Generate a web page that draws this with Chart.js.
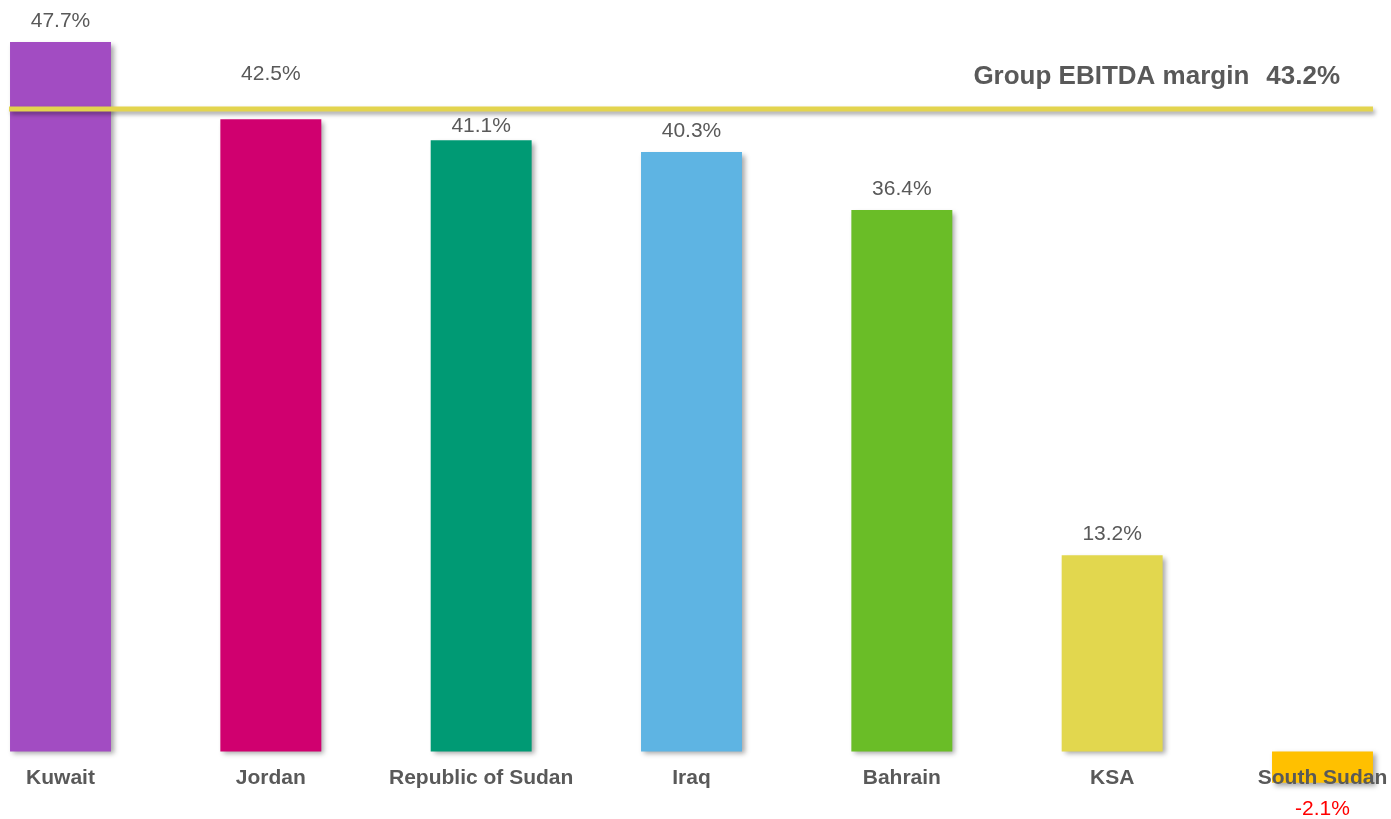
<!DOCTYPE html>
<html>
<head>
<meta charset="utf-8">
<title>EBITDA margin by operation</title>
<script src="https://cdn.jsdelivr.net/npm/chart.js@4.4.0/dist/chart.umd.min.js"></script>
<style>
  html, body { margin: 0; padding: 0; background: #ffffff; }
  #wrap { width: 1391px; height: 819px; }
</style>
</head>
<body>
<div id="wrap"><canvas id="c" width="1391" height="819"></canvas></div>
<script>
// EBITDA margin by operation (%)
const categories = ['Kuwait', 'Jordan', 'Republic of Sudan', 'Iraq', 'Bahrain', 'KSA', 'South Sudan'];
const ebitdaMargins = [47.7, 42.5, 41.1, 40.3, 36.4, 13.2, -2.1];
const groupMargin = 43.2;
const groupLabel = 'Group EBITDA margin';

const barColors = ['#A24CC2', '#D0006F', '#009A74', '#5EB4E3', '#6ABD27', '#E2D74E', '#FFC000'];
const FONT = "'Liberation Sans', Arial, sans-serif";
const TEXT = '#595959';

const fmt = v => v.toFixed(1) + '%';

// soft drop shadow under the bars
const barShadow = {
  id: 'barShadow',
  beforeDatasetsDraw(chart) {
    const ctx = chart.ctx;
    ctx.save();
    ctx.shadowColor = 'rgba(0,0,0,0.35)';
    ctx.shadowBlur = 5;
    ctx.shadowOffsetX = 3;
    ctx.shadowOffsetY = 3;
  },
  afterDatasetsDraw(chart) {
    chart.ctx.restore();
  }
};

// horizontal reference line for the group margin
const groupLine = {
  id: 'groupLine',
  afterDatasetsDraw(chart) {
    const ctx = chart.ctx;
    const bars = chart.getDatasetMeta(0).data;
    const first = bars[0], last = bars[bars.length - 1];
    const x0 = first.x - first.width / 2 - 1;
    const x1 = last.x + last.width / 2;
    const y = chart.scales.y.getPixelForValue(groupMargin);

    ctx.save();
    ctx.shadowColor = 'rgba(0,0,0,0.35)';
    ctx.shadowBlur = 4;
    ctx.shadowOffsetX = 2;
    ctx.shadowOffsetY = 3;
    ctx.strokeStyle = '#E3D44E';
    ctx.lineWidth = 5;
    ctx.beginPath();
    ctx.moveTo(x0, y);
    ctx.lineTo(x1, y);
    ctx.stroke();
    ctx.restore();

    ctx.save();
    ctx.fillStyle = TEXT;
    ctx.font = 'bold 26px ' + FONT;
    ctx.textBaseline = 'alphabetic';
    ctx.textAlign = 'right';
    const right = 1340;
    const base = y - 25;
    const valueText = fmt(groupMargin);
    ctx.fillText(valueText, right, base);
    const vw = ctx.measureText(valueText).width;
    ctx.fillText(groupLabel, right - vw - 17, base);
    ctx.restore();
  }
};

// value labels above/below bars and category names under the baseline
const barLabels = {
  id: 'barLabels',
  afterDraw(chart, args, opts) {
    const ctx = chart.ctx;
    const yScale = chart.scales.y;
    const zeroY = yScale.getPixelForValue(0);
    const bars = chart.getDatasetMeta(0).data;
    ctx.save();
    ctx.textAlign = 'center';
    ctx.textBaseline = 'alphabetic';

    bars.forEach((bar, i) => {
      const v = ebitdaMargins[i];
      ctx.font = '21px ' + FONT;
      if (v >= 0) {
        const gap = (opts.gaps && opts.gaps[i] != null) ? opts.gaps[i] : 15;
        ctx.fillStyle = TEXT;
        ctx.fillText(fmt(v), bar.x, bar.y - gap);
      } else {
        ctx.fillStyle = '#FF0000';
        ctx.fillText(fmt(v), bar.x, bar.y + 32);
      }
    });

    ctx.font = 'bold 21px ' + FONT;
    ctx.fillStyle = TEXT;
    bars.forEach((bar, i) => {
      ctx.fillText(categories[i], bar.x, zeroY + 32.5);
    });
    ctx.restore();
  }
};

new Chart(document.getElementById('c'), {
  type: 'bar',
  data: {
    labels: categories,
    datasets: [{
      data: ebitdaMargins,
      backgroundColor: barColors,
      borderWidth: 0,
      barPercentage: 0.96,
      categoryPercentage: 0.5,
      clip: false
    }]
  },
  options: {
    responsive: false,
    animation: false,
    layout: { padding: { left: 60.5, right: 68.5, top: 7.8, bottom: 22.9 } },
    scales: {
      x: { display: false, offset: false, grid: { display: false } },
      y: { display: false, min: -3, max: 50, grid: { display: false } }
    },
    plugins: {
      legend: { display: false },
      tooltip: { enabled: false },
      barLabels: { gaps: { 1: 39.4, 2: 7.7 } }
    }
  },
  plugins: [barShadow, groupLine, barLabels]
});
</script>
</body>
</html>
